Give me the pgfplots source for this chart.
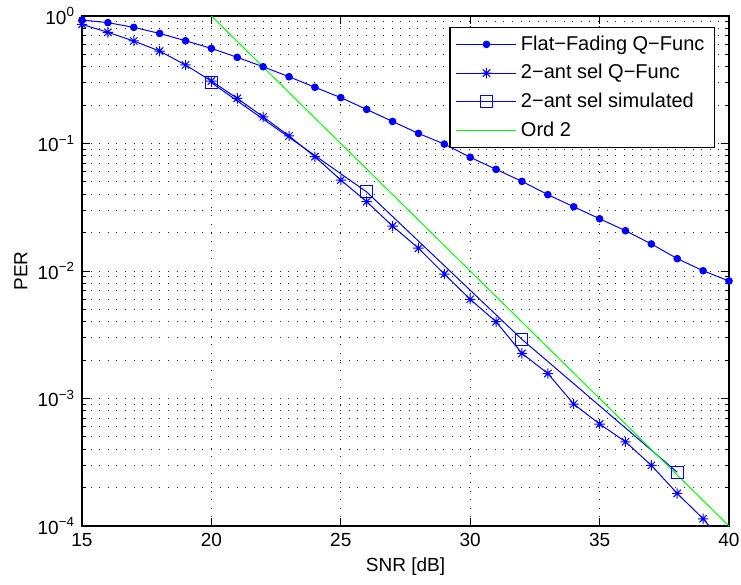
\documentclass[border=0pt]{standalone}
\usepackage{fontspec}
\setmainfont{Liberation Sans}
\usepackage{pgfplots}
\pgfplotsset{compat=1.18}

% MATLAB style '*' marker: a plus and a cross on top of each other
\pgfdeclareplotmark{mstar}{%
  \pgfpathmoveto{\pgfqpoint{-\pgfplotmarksize}{0pt}}%
  \pgfpathlineto{\pgfqpoint{\pgfplotmarksize}{0pt}}%
  \pgfpathmoveto{\pgfqpoint{0pt}{-\pgfplotmarksize}}%
  \pgfpathlineto{\pgfqpoint{0pt}{\pgfplotmarksize}}%
  \pgfpathmoveto{\pgfqpoint{-0.707\pgfplotmarksize}{-0.707\pgfplotmarksize}}%
  \pgfpathlineto{\pgfqpoint{0.707\pgfplotmarksize}{0.707\pgfplotmarksize}}%
  \pgfpathmoveto{\pgfqpoint{-0.707\pgfplotmarksize}{0.707\pgfplotmarksize}}%
  \pgfpathlineto{\pgfqpoint{0.707\pgfplotmarksize}{-0.707\pgfplotmarksize}}%
  \pgfusepathqstroke}

\definecolor{mblue}{rgb}{0,0,1}
\definecolor{mgreen}{rgb}{0,1,0}

\begin{document}
\begin{tikzpicture}
\begin{axis}[
  at={(0,0)}, anchor=south west,
  scale only axis,
  width=323.5pt, height=255pt,
  ymode=log,
  xmin=15, xmax=40,
  ymin=1e-4, ymax=1,
  xtick={15,20,25,30,35,40},
  xticklabels={15,20,25,30,35,40},
  ytick={1e-4,1e-3,1e-2,1e-1,1},
  yticklabels={10\textsuperscript{−4},10\textsuperscript{−3},10\textsuperscript{−2},10\textsuperscript{−1},10\textsuperscript{0}},
  minor x tick num=0,
  xtick pos=both, ytick pos=both,
  tick align=inside,
  major tick length=4pt, minor tick length=2pt,
  every tick/.style={black, line width=0.5pt},
  axis line style={black, line width=0.6pt},
  grid=both,
  major grid style={black!85, line width=0.5pt, dash pattern=on 0.5pt off 3.8pt},
  minor grid style={black!85, line width=0.5pt, dash pattern=on 0.5pt off 3.8pt},
  tick label style={font=\fontsize{9.5}{11}\selectfont},
  xlabel={SNR [dB]},
  ylabel={PER},
  label style={font=\fontsize{9.5}{11}\selectfont},
  xlabel style={at={(axis description cs:0.5,-0.0804)}, anchor=center},
  ylabel style={at={(axis description cs:-0.0945,0.5)}, anchor=center},
  legend style={
    at={(axis description cs:0.9784,0.9784)}, anchor=north east,
    draw=black, line width=0.6pt,
    font=\fontsize{10}{12}\selectfont,
    cells={anchor=west},
    row sep=1.6pt,
    inner xsep=3pt, inner ysep=2pt,
  },
  legend image code/.code={%
    \draw[mark repeat=2, mark phase=2] plot coordinates {(0pt,0pt) (15pt,0pt) (30pt,0pt)};},
]
% Flat-Fading Q-Func
\addplot[mblue, line width=0.5pt, mark=*, mark size=1.65pt, mark options={fill=mblue, draw=mblue}] coordinates {
  (15,0.93) (16,0.887) (17,0.815) (18,0.73) (19,0.64) (20,0.557)
  (21,0.474) (22,0.40) (23,0.334) (24,0.276) (25,0.229) (26,0.185)
  (27,0.149) (28,0.120) (29,0.099) (30,0.078) (31,0.0627) (32,0.0505)
  (33,0.0397) (34,0.0319) (35,0.0257) (36,0.0207) (37,0.0163) (38,0.0125)
  (39,0.01005) (40,0.00835)
};
% 2-ant sel Q-Func
\addplot[mblue, line width=0.5pt, mark=mstar, mark size=2.6pt, mark options={line width=0.5pt}] coordinates {
  (15,0.86) (16,0.745) (17,0.637) (18,0.531) (19,0.413) (20,0.309)
  (21,0.226) (22,0.162) (23,0.1146) (24,0.0788) (25,0.0517) (26,0.035)
  (27,0.0225) (28,0.0151) (29,0.00947) (30,0.0060) (31,0.0040) (32,0.00226)
  (33,0.00157) (34,0.000905) (35,0.000631) (36,0.000458) (37,0.000299)
  (38,0.000180) (39,0.000114) (40,0.000065)
};
% 2-ant sel simulated
\addplot[mblue, line width=0.5pt, mark=square, mark size=3pt, mark options={line width=0.5pt}] coordinates {
  (20,0.30) (26,0.0417) (32,0.00291) (38,0.000264)
};
% Ord 2
\addplot[mgreen, line width=0.5pt] coordinates {(20,1) (40,1e-4)};
\legend{Flat−Fading Q−Func, 2−ant sel Q−Func, 2−ant sel simulated, Ord 2}
\end{axis}
\pgfresetboundingbox
\path[use as bounding box] (-41pt,-29.5pt) rectangle (329.5pt,263pt);
\end{tikzpicture}
\end{document}
